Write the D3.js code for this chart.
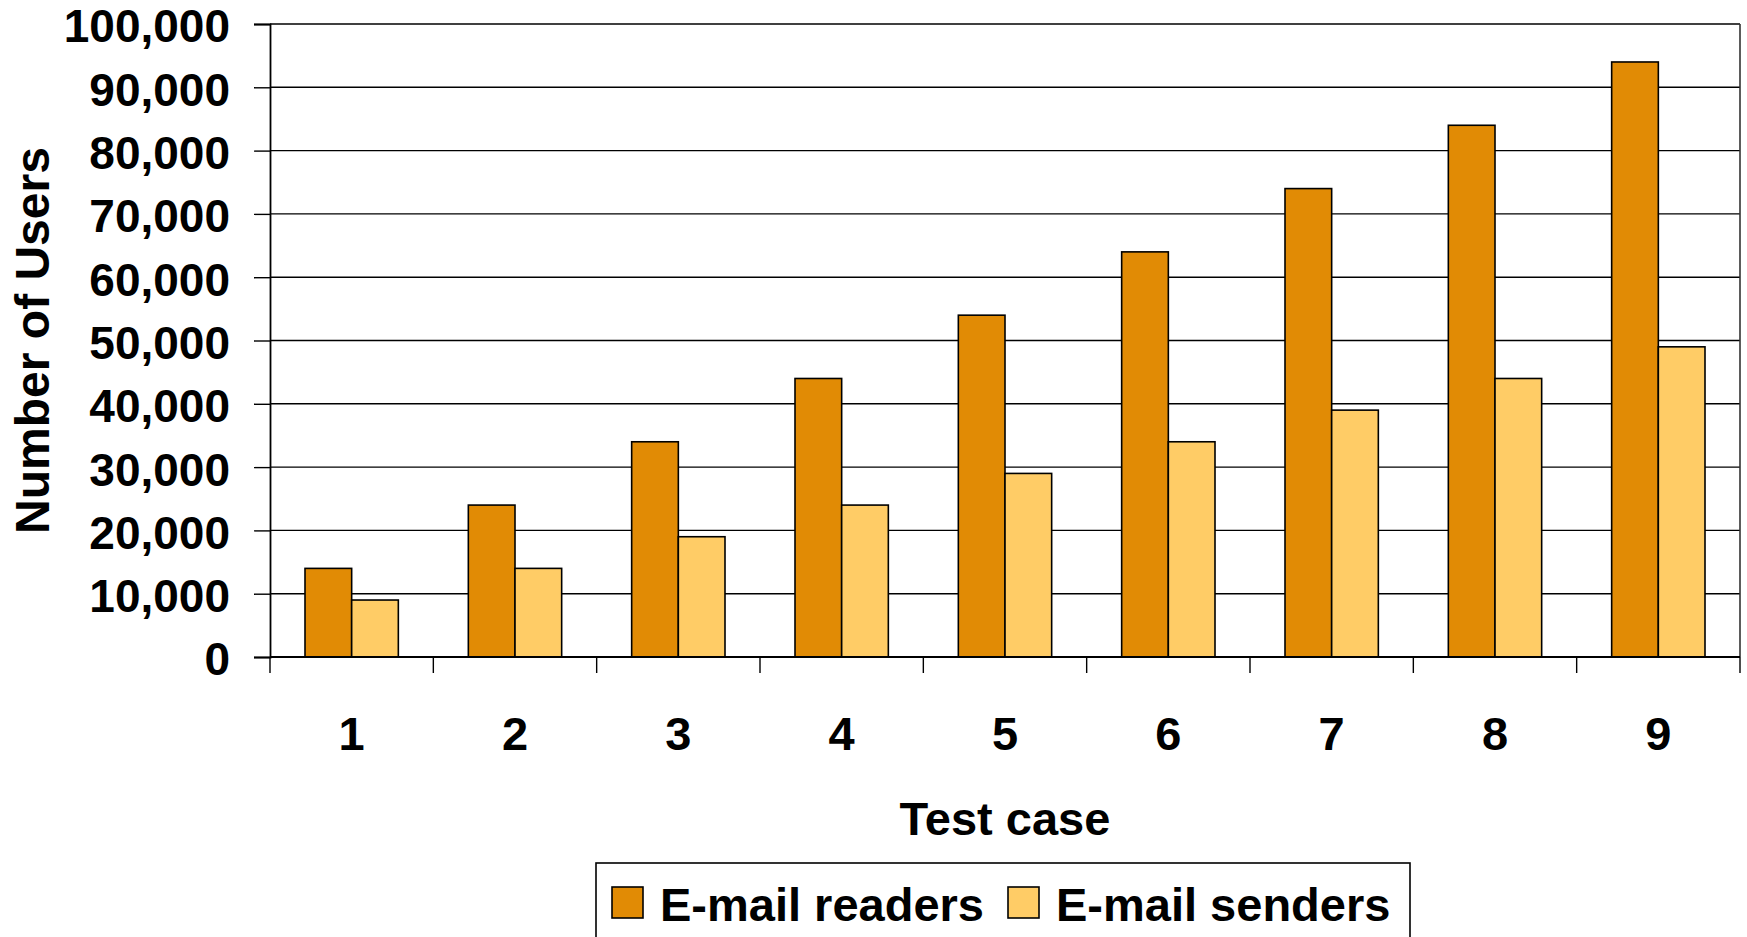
<!DOCTYPE html>
<html>
<head>
<meta charset="utf-8">
<script src="https://cdn.jsdelivr.net/npm/d3@7"></script>
<style>
  html, body { margin: 0; padding: 0; background: #fff; }
  svg { display: block; font-family: "Liberation Sans", Arial, sans-serif; font-weight: bold; }
</style>
</head>
<body>
<svg id="chart" width="1747" height="937"></svg>
<script>
// Test cases on the x axis
const testCases = ["1", "2", "3", "4", "5", "6", "7", "8", "9"];
// Number of users per test case
const emailReaders = [14000, 24000, 34000, 44000, 54000, 64000, 74000, 84000, 94000];
const emailSenders = [9000, 14000, 19000, 24000, 29000, 34000, 39000, 44000, 49000];
const seriesNames = ["E-mail readers", "E-mail senders"];
const seriesColors = ["#E18B05", "#FFCC66"];
const yTicks = [0, 10000, 20000, 30000, 40000, 50000, 60000, 70000, 80000, 90000, 100000];

const svg = d3.select("#chart");
const plot = { left: 270, right: 1740, top: 24, bottom: 657 };
const fontSize = 47;

const x = d3.scaleBand().domain(testCases).range([plot.left, plot.right]).padding(0);
const barW = x.bandwidth() / 3.5;           // gap width 150% of a bar
const x1 = d3.scaleBand().domain(seriesNames)
  .range([0.75 * barW, x.bandwidth() - 0.75 * barW]).padding(0);
const y = d3.scaleLinear().domain([0, 100000]).range([plot.bottom, plot.top]);

// Horizontal gridlines
svg.append("g").selectAll("line").data(yTicks).join("line")
  .attr("x1", plot.left).attr("x2", plot.right)
  .attr("y1", d => y(d)).attr("y2", d => y(d))
  .attr("stroke", "#000").attr("stroke-width", 1.4);

// Right edge of the plot area
svg.append("line")
  .attr("x1", plot.right).attr("x2", plot.right)
  .attr("y1", plot.top).attr("y2", plot.bottom)
  .attr("stroke", "#333").attr("stroke-width", 1.6);

// Bars
const rows = testCases.map((c, i) => ({ c, vals: [emailReaders[i], emailSenders[i]] }));
const groups = svg.append("g").selectAll("g").data(rows).join("g")
  .attr("transform", d => `translate(${x(d.c)},0)`);
groups.selectAll("rect")
  .data(d => d.vals.map((v, k) => ({ name: seriesNames[k], v, k })))
  .join("rect")
  .attr("x", d => x1(d.name))
  .attr("width", x1.bandwidth())
  .attr("y", d => y(d.v))
  .attr("height", d => y(0) - y(d.v))
  .attr("fill", d => seriesColors[d.k])
  .attr("stroke", "#000").attr("stroke-width", 1.6);

// Y axis
const yAxis = svg.append("g")
  .attr("transform", `translate(${plot.left},0)`)
  .call(d3.axisLeft(y).tickValues(yTicks).tickFormat(d3.format(",")).tickSize(16).tickPadding(24));
yAxis.select(".domain").attr("stroke", "#000").attr("stroke-width", 1.8);
yAxis.selectAll(".tick line").attr("stroke", "#000").attr("stroke-width", 1.4);
yAxis.selectAll("text")
  .attr("font-size", 46).attr("font-weight", "bold")
  .attr("font-family", "'Liberation Sans', Arial, sans-serif")
  .attr("fill", "#000").attr("dy", "0.39em");

// X axis: baseline and boundary ticks
svg.append("line")
  .attr("x1", plot.left).attr("x2", plot.right)
  .attr("y1", plot.bottom).attr("y2", plot.bottom)
  .attr("stroke", "#000").attr("stroke-width", 1.8);
const boundaries = testCases.map(c => x(c)).concat([plot.right]);
svg.append("g").selectAll("line").data(boundaries).join("line")
  .attr("x1", d => d).attr("x2", d => d)
  .attr("y1", plot.bottom).attr("y2", plot.bottom + 16)
  .attr("stroke", "#000").attr("stroke-width", 1.4);
svg.append("g").selectAll("text").data(testCases).join("text")
  .attr("x", d => x(d) + x.bandwidth() / 2)
  .attr("y", 750)
  .attr("text-anchor", "middle")
  .attr("font-size", fontSize)
  .text(d => d);

// Axis titles
svg.append("text")
  .attr("x", (plot.left + plot.right) / 2).attr("y", 835)
  .attr("text-anchor", "middle").attr("font-size", fontSize)
  .text("Test case");
svg.append("text")
  .attr("transform", `translate(49,${(plot.top + plot.bottom) / 2}) rotate(-90)`)
  .attr("text-anchor", "middle").attr("font-size", 48)
  .text("Number of Users");

// Legend
const legend = svg.append("g");
legend.append("rect")
  .attr("x", 596).attr("y", 863).attr("width", 814).attr("height", 110)
  .attr("fill", "#fff").attr("stroke", "#000").attr("stroke-width", 1.6);
const items = legend.selectAll("g").data(seriesNames).join("g")
  .attr("transform", (d, i) => `translate(${612 + i * 396},0)`);
items.append("rect")
  .attr("x", 0).attr("y", 887).attr("width", 31).attr("height", 31)
  .attr("fill", (d, i) => seriesColors[i])
  .attr("stroke", "#000").attr("stroke-width", 1.6);
items.append("text")
  .attr("x", 48).attr("y", 921)
  .attr("font-size", fontSize)
  .text(d => d);
</script>
</body>
</html>
